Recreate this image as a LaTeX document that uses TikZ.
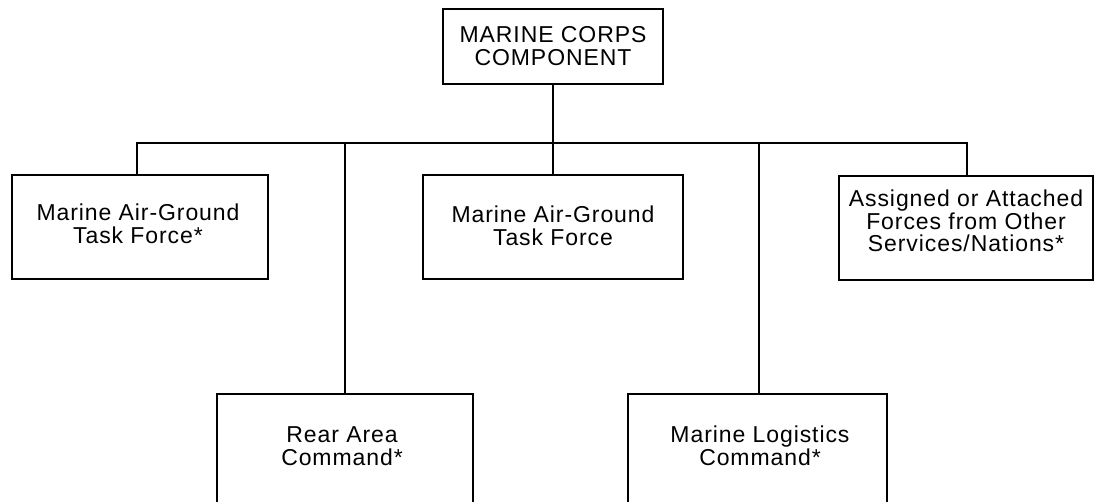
\documentclass[tikz,border=0pt]{standalone}
\usepackage{fontspec}
\newfontfamily\orgfont{Liberation Sans}[LetterSpace=4]
\begin{document}
\begin{tikzpicture}[x=1pt,y=-1pt,
  box/.style={draw=black, line width=1.6pt, fill=none, inner sep=0pt},
  lbl/.style={align=center, inner sep=0pt, font=\orgfont\fontsize{23}{22.5}\selectfont},
  conn/.style={draw=black, line width=1.6pt, line cap=rect}]
\useasboundingbox (0,0) rectangle (1094,501);
\clip (0,0) rectangle (1094,501);
% boxes
\node[box, minimum width=220pt, minimum height=75pt] (top) at (553,46.5) {};
\node[box, minimum width=256pt, minimum height=104pt] (mag1) at (140,227) {};
\node[box, minimum width=260pt, minimum height=104pt] (mag2) at (553,227) {};
\node[box, minimum width=254pt, minimum height=104pt] (afo) at (966,228) {};
\node[box, minimum width=256pt, minimum height=130pt] (rear) at (345,459) {};
\node[box, minimum width=259pt, minimum height=130pt] (log) at (757.5,459) {};
% texts
\node[lbl] (ttop) at (553,46) {MARINE CORPS\\COMPONENT};
\node[lbl] (tmag1) at (138,224) {Marine Air-Ground\\Task Force*};
\node[lbl] (tmag2) at (553,226) {Marine Air-Ground\\Task Force};
\node[lbl] (tafo) at (966,221) {Assigned or Attached\\Forces from Other\\Services/Nations*};
\node[lbl] (trear) at (342,446) {Rear Area\\Command*};
\node[lbl] (tlog) at (760,446) {Marine Logistics\\Command*};
% junctions on the bar
\coordinate (jL) at (137,143);
\coordinate (jRear) at (345,143);
\coordinate (jLog) at (759,143);
\coordinate (jR) at (967,143);
% connectors
\draw[conn] (top.south) -- (top.south |- jL);
\draw[conn] (jL) -- (jR);
\draw[conn] (jL) -- (jL |- mag1.north);
\draw[conn] (jRear) -- (jRear |- rear.north);
\draw[conn] (mag2.north |- jL) -- (mag2.north);
\draw[conn] (jLog) -- (jLog |- log.north);
\draw[conn] (jR) -- (jR |- afo.north);
\end{tikzpicture}
\end{document}
